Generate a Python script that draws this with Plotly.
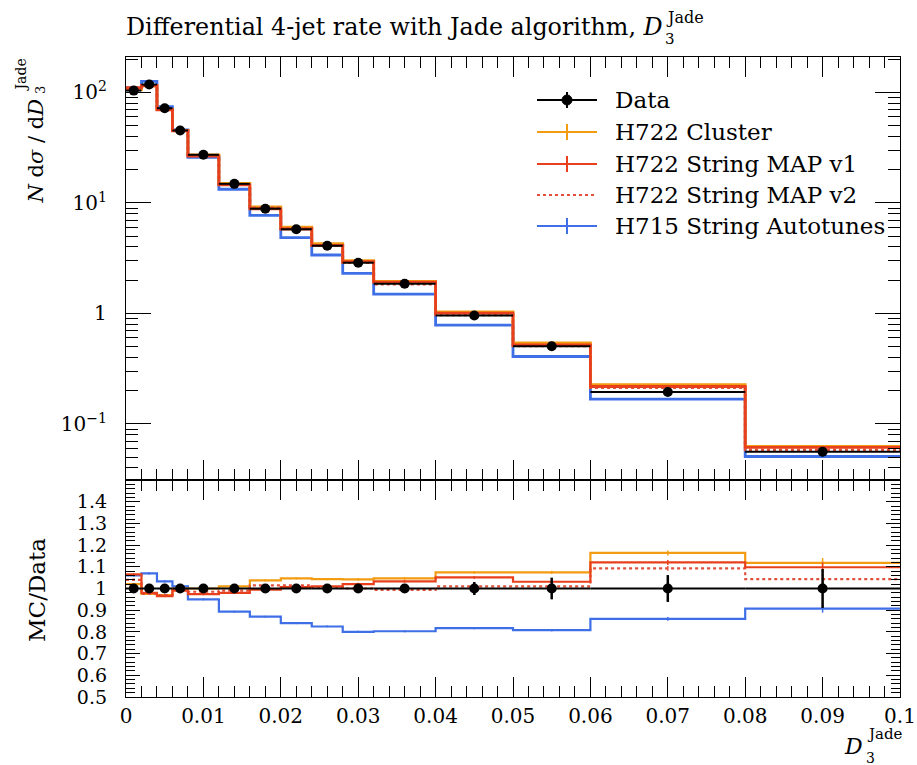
import plotly.graph_objects as go

# ---- binning of D3 (Jade) ----
edges = [0.0, 0.002, 0.004, 0.006, 0.008, 0.012, 0.016, 0.020, 0.024,
         0.028, 0.032, 0.040, 0.050, 0.060, 0.080, 0.100]

# ---- measured distribution (N dsigma/dD3) and relative uncertainty ----
data_vals = [104, 118, 72, 45.3, 27.3, 14.9, 8.88, 5.78, 4.10, 2.88,
             1.86, 0.96, 0.505, 0.195, 0.056]
data_relerr = [0.01, 0.008, 0.008, 0.008, 0.008, 0.008, 0.008, 0.01, 0.01, 0.012,
               0.015, 0.03, 0.05, 0.062, 0.09]

# ---- generator predictions as MC/Data ratios ----
ratio_cluster = [1.02, 0.975, 0.97, 1.0, 1.0, 1.01, 1.037, 1.047, 1.043, 1.042,
                 1.047, 1.074, 1.074, 1.164, 1.118]
ratio_map_v1 = [1.065, 0.98, 0.965, 0.99, 0.974, 0.98, 0.995, 1.006, 1.01, 1.02,
                1.033, 1.051, 1.031, 1.12, 1.098]
ratio_map_v2 = [1.04, 0.975, 0.97, 0.995, 0.985, 0.99, 1.014, 1.014, 1.005, 1.0,
                0.994, 1.01, 1.01, 1.093, 1.043]
ratio_autotunes = [1.06, 1.07, 1.033, 1.01, 0.95, 0.893, 0.87, 0.84, 0.825, 0.80,
                   0.803, 0.817, 0.808, 0.86, 0.907]
mc_relerr = [0.005, 0.005, 0.005, 0.005, 0.005, 0.005, 0.005, 0.005, 0.005, 0.006,
             0.006, 0.006, 0.007, 0.01, 0.02]

series_names = ["H722 Cluster", "H722 String MAP v1", "H722 String MAP v2",
                "H715 String Autotunes"]

# ---- tick labels ----
x_tickvals = [0, 0.01, 0.02, 0.03, 0.04, 0.05, 0.06, 0.07, 0.08, 0.09, 0.1]
x_ticktext = ["0", "0.01", "0.02", "0.03", "0.04", "0.05", "0.06", "0.07",
              "0.08", "0.09", "0.1"]
main_y_tickvals = [0.1, 1, 10, 100]
main_y_ticktext = ["10<sup>\u22121</sup>", "1", "10<sup>1</sup>", "10<sup>2</sup>"]
ratio_tickvals = [0.5, 0.6, 0.7, 0.8, 0.9, 1.0, 1.1, 1.2, 1.3, 1.4]
ratio_ticktext = ["0.5", "0.6", "0.7", "0.8", "0.9", "1", "1.1", "1.2", "1.3", "1.4"]

# ---- styling ----
FONT = "DejaVu Serif"
C_ORANGE = "#F39C12"
C_RED = "#E8401C"
C_RED_DOT = "#E0503C"
C_BLUE = "#3E6FE6"
styles = [
    dict(color=C_ORANGE, dash="solid"),
    dict(color=C_RED, dash="solid"),
    dict(color=C_RED_DOT, dash="dot"),
    dict(color=C_BLUE, dash="solid"),
]

W, H = 917, 765
L, R, T, B = 126, 17, 57, 68
plot_w = W - L - R
plot_h = H - T - B
split_px = 480  # boundary between the two panels (pixels from top)
ratio_top = (H - B - split_px) / plot_h


def px(xp):
    return (xp - L) / plot_w


def py(yp):
    return (H - B - yp) / plot_h


centers = [(a + b) / 2 for a, b in zip(edges[:-1], edges[1:])]
halfw = [(b - a) / 2 for a, b in zip(edges[:-1], edges[1:])]
data_abserr = [v * e for v, e in zip(data_vals, data_relerr)]

fig = go.Figure()

ratios = [ratio_cluster, ratio_map_v1, ratio_map_v2, ratio_autotunes]
draw_order = [3, 0, 2, 1]
for i in draw_order:
    r = ratios[i]
    st = styles[i]
    mc = [d * q for d, q in zip(data_vals, r)]
    # main panel histogram
    fig.add_trace(go.Scatter(
        x=edges, y=mc + [mc[-1]], mode="lines", line_shape="hv",
        line=dict(color=st["color"], width=2.8, dash=st["dash"]),
        xaxis="x", yaxis="y", showlegend=False, hoverinfo="skip"))
    fig.add_trace(go.Scatter(
        x=centers, y=mc, mode="markers", marker=dict(size=1, opacity=0),
        error_y=dict(type="data", array=[m * e for m, e in zip(mc, mc_relerr)],
                     color=st["color"], thickness=1.5, width=0),
        xaxis="x", yaxis="y", showlegend=False, hoverinfo="skip"))
    # ratio panel histogram
    fig.add_trace(go.Scatter(
        x=edges, y=r + [r[-1]], mode="lines", line_shape="hv",
        line=dict(color=st["color"], width=2.2, dash=st["dash"]),
        xaxis="x2", yaxis="y2", showlegend=False, hoverinfo="skip"))
    fig.add_trace(go.Scatter(
        x=centers, y=r, mode="markers", marker=dict(size=1, opacity=0),
        error_y=dict(type="data", array=[q * e for q, e in zip(r, mc_relerr)],
                     color=st["color"], thickness=1.5, width=0),
        xaxis="x2", yaxis="y2", showlegend=False, hoverinfo="skip"))

# measured points
fig.add_trace(go.Scatter(
    x=centers, y=data_vals, mode="markers",
    marker=dict(color="black", size=10),
    error_x=dict(type="data", array=halfw, color="black", thickness=2, width=0),
    error_y=dict(type="data", array=data_abserr, color="black", thickness=2, width=0),
    xaxis="x", yaxis="y", showlegend=False, hoverinfo="skip"))
fig.add_trace(go.Scatter(
    x=centers, y=[1.0] * len(centers), mode="markers",
    marker=dict(color="black", size=10),
    error_x=dict(type="data", array=halfw, color="black", thickness=2, width=0),
    error_y=dict(type="data", array=data_relerr, color="black", thickness=2.5, width=0),
    xaxis="x2", yaxis="y2", showlegend=False, hoverinfo="skip"))

tickfont = dict(family=FONT, size=20, color="black")
axis_common = dict(showline=True, linecolor="black", linewidth=1.3, mirror="ticks",
                   ticks="inside", tickcolor="black", showgrid=False, zeroline=False,
                   automargin=False)

fig.update_layout(
    width=W, height=H,
    margin=dict(l=L, r=R, t=T, b=B),
    paper_bgcolor="white", plot_bgcolor="white",
    font=dict(family=FONT, color="black"),
    xaxis=dict(domain=[0, 1], anchor="y", range=[0, 0.1], tickvals=x_tickvals,
               showticklabels=False, ticklen=20, tickwidth=1.2,
               minor=dict(dtick=0.002, tick0=0, ticks="inside", ticklen=11,
                          tickwidth=1.2, tickcolor="black", showgrid=False),
               **axis_common),
    yaxis=dict(domain=[ratio_top, 1], anchor="x", type="log",
               range=[-1.507, 2.321], tickvals=main_y_tickvals,
               ticktext=main_y_ticktext, tickfont=tickfont, ticklen=25,
               tickwidth=1.2, ticklabelstandoff=14,
               minor=dict(tickvals=[m * 10 ** k for k in (-2, -1, 0, 1, 2)
                                    for m in range(2, 10)],
                          ticks="inside", ticklen=12, tickwidth=1.2,
                          tickcolor="black", showgrid=False),
               **axis_common),
    xaxis2=dict(domain=[0, 1], anchor="y2", range=[0, 0.1], matches="x",
                tickvals=x_tickvals, ticktext=x_ticktext, tickfont=tickfont,
                ticklen=20, tickwidth=1.2, ticklabelstandoff=1,
                minor=dict(dtick=0.002, tick0=0, ticks="inside", ticklen=11,
                           tickwidth=1.2, tickcolor="black", showgrid=False),
                **axis_common),
    yaxis2=dict(domain=[0, ratio_top], anchor="x2", range=[0.5, 1.5],
                tickvals=ratio_tickvals, ticktext=ratio_ticktext,
                tickfont=dict(family=FONT, size=19, color="black"),
                ticklen=14, tickwidth=1.2, ticklabelstandoff=14,
                minor=dict(dtick=0.02, tick0=0.5, ticks="inside", ticklen=9,
                           tickwidth=1.2, tickcolor="black", showgrid=False),
                **axis_common),
)

annotations = []
shapes = []


def note(text, x, y, size, xanchor="center", yanchor="middle", angle=0):
    annotations.append(dict(
        text=text, x=px(x), y=py(y), xref="paper", yref="paper",
        showarrow=False, xanchor=xanchor, yanchor=yanchor, textangle=angle,
        borderpad=0, font=dict(family=FONT, size=size, color="black")))


# plot title, with D3^Jade set as stacked sub/superscript
note("Differential 4-jet rate with Jade algorithm, <i>D</i>", 664, 27, 23.8,
     xanchor="right")
note("Jade", 665, 17, 16, xanchor="left")
note("3", 664, 39, 15, xanchor="left")

# y-axis titles (rotated)
note("<i>N</i> d<i>\u03c3</i> / d<i>D</i>", 35, 98, 21, yanchor="top", angle=-90)
note("3", 41, 85, 13, yanchor="top", angle=-90)
note("Jade", 20, 58, 14, yanchor="top", angle=-90)
note("MC/Data", 37, 590, 23, angle=-90)

# x-axis title
note("<i>D</i>", 864, 746, 22, xanchor="right")
note("Jade", 866, 734, 15, xanchor="left")
note("3", 865, 758, 14, xanchor="left")

# legend
leg_rows = [100, 132, 164, 195, 226]
leg_x0, leg_x1, leg_tx = 537, 597, 614
leg_labels = ["Data"] + series_names
leg_colors = ["black"] + [s["color"] for s in styles]
leg_dash = ["solid"] + [s["dash"] for s in styles]
xm = (leg_x0 + leg_x1) / 2
for yrow, lab, col, dsh in zip(leg_rows, leg_labels, leg_colors, leg_dash):
    shapes.append(dict(type="line", xref="paper", yref="paper",
                       x0=px(leg_x0), x1=px(leg_x1), y0=py(yrow), y1=py(yrow),
                       line=dict(color=col, width=2.2, dash=dsh)))
    if dsh == "solid":
        shapes.append(dict(type="line", xref="paper", yref="paper",
                           x0=px(xm), x1=px(xm), y0=py(yrow - 8), y1=py(yrow + 8),
                           line=dict(color=col, width=2)))
    note(lab, leg_tx, yrow, 23, xanchor="left")
shapes.append(dict(type="circle", xref="paper", yref="paper",
                   x0=px(xm - 5), x1=px(xm + 5), y0=py(leg_rows[0] - 5),
                   y1=py(leg_rows[0] + 5), fillcolor="black",
                   line=dict(color="black", width=1)))

fig.update_layout(annotations=annotations, shapes=shapes)

fig.write_html("out.html")
